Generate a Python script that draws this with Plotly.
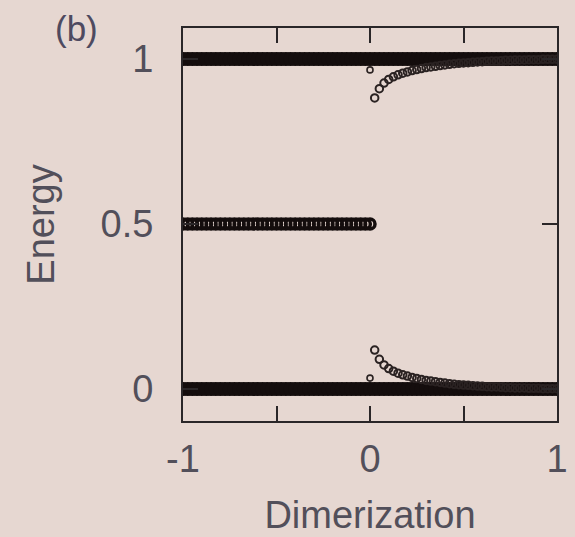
import plotly.graph_objects as go

# ---------------- data ----------------
dimerization_neg = [-1.0, -0.975, -0.95, -0.925, -0.9, -0.875, -0.85, -0.825, -0.8, -0.775,
                    -0.75, -0.725, -0.7, -0.675, -0.65, -0.625, -0.6, -0.575, -0.55, -0.525,
                    -0.5, -0.475, -0.45, -0.425, -0.4, -0.375, -0.35, -0.325, -0.3, -0.275,
                    -0.25, -0.225, -0.2, -0.175, -0.15, -0.125, -0.1, -0.075, -0.05, -0.025, 0.0]
dimerization_pos = [0.025, 0.05, 0.075, 0.1, 0.125, 0.15, 0.175, 0.2, 0.225, 0.25,
                    0.275, 0.3, 0.325, 0.35, 0.375, 0.4, 0.425, 0.45, 0.475, 0.5,
                    0.525, 0.55, 0.575, 0.6, 0.625, 0.65, 0.675, 0.7, 0.725, 0.75,
                    0.775, 0.8, 0.825, 0.85, 0.875, 0.9, 0.925, 0.95, 0.975, 1.0]

# bulk band energies (flat bands)
bulk_band_levels = [0.0, 1.0]

# mid-gap (zero-mode) state for negative dimerization
midgap_energy = 0.5

# edge states detaching from the bands for positive dimerization
edge_lower = [0.118, 0.090, 0.073, 0.062, 0.054, 0.048, 0.043, 0.039, 0.035, 0.032,
              0.029, 0.026, 0.024, 0.022, 0.020, 0.018, 0.016, 0.014, 0.013, 0.012,
              0.011, 0.010, 0.009, 0.008, 0.007, 0.006, 0.006, 0.005, 0.004, 0.004,
              0.003, 0.003, 0.003, 0.002, 0.002, 0.002, 0.001, 0.001, 0.001, 0.001]
edge_upper = [0.882, 0.910, 0.927, 0.938, 0.946, 0.952, 0.957, 0.961, 0.965, 0.968,
              0.971, 0.974, 0.976, 0.978, 0.980, 0.982, 0.984, 0.986, 0.987, 0.988,
              0.989, 0.990, 0.991, 0.992, 0.993, 0.994, 0.994, 0.995, 0.996, 0.996,
              0.997, 0.997, 0.997, 0.998, 0.998, 0.998, 0.999, 0.999, 0.999, 0.999]
# states at the critical point
critical_x = [0.0, 0.0]
critical_e = [0.033, 0.967]

x_tickvals = [-1, -0.5, 0, 0.5, 1]
x_ticktext = ["-1", "", "0", "", "1"]
y_tickvals = [0, 0.5, 1]
y_ticktext = ["0", "0.5", "1"]

# ---------------- figure ----------------
BG = "#e6d7d1"
TXT = "#524f5a"
INK = "#140d0d"
EDGE = "#2a2222"
FONT = "Liberation Sans"

fig = go.Figure()

dim_all = dimerization_neg + dimerization_pos
for lvl in bulk_band_levels:
    fig.add_trace(go.Scatter(
        x=dim_all, y=[lvl for _ in dim_all], mode="lines+markers",
        line=dict(color=INK, width=13),
        marker=dict(symbol="circle", size=14, color=INK, line=dict(width=0)),
        showlegend=False, hoverinfo="skip"))

fig.add_trace(go.Scatter(
    x=dimerization_neg, y=[midgap_energy for _ in dimerization_neg], mode="markers",
    marker=dict(symbol="circle-open", size=10, color=INK, line=dict(width=3.5)),
    showlegend=False))

fig.add_trace(go.Scatter(
    x=dimerization_pos, y=edge_lower, mode="markers",
    marker=dict(symbol="circle-open", size=7.5, color=EDGE, line=dict(width=2)),
    showlegend=False))
fig.add_trace(go.Scatter(
    x=dimerization_pos, y=edge_upper, mode="markers",
    marker=dict(symbol="circle-open", size=7.5, color=EDGE, line=dict(width=2)),
    showlegend=False))
fig.add_trace(go.Scatter(
    x=critical_x, y=critical_e, mode="markers",
    marker=dict(symbol="circle-open", size=6, color=EDGE, line=dict(width=1.6)),
    showlegend=False))

axis_common = dict(
    showline=True, linecolor="#2a2628", linewidth=2, mirror="ticks",
    ticks="inside", ticklen=15, tickwidth=2, tickcolor="#2a2628",
    showgrid=False, zeroline=False, automargin=False,
    tickfont=dict(family=FONT, size=38, color=TXT),
)

fig.update_layout(
    width=575, height=537,
    margin=dict(l=183, r=18, t=28, b=116),
    paper_bgcolor=BG, plot_bgcolor=BG,
    font=dict(family=FONT, color=TXT),
    xaxis=dict(range=[-1, 1], tickvals=x_tickvals, ticktext=x_ticktext,
               ticklabelstandoff=3,
               title=dict(text="Dimerization", font=dict(family=FONT, size=38, color=TXT), standoff=23),
               **axis_common),
    yaxis=dict(range=[-0.097, 1.094], tickvals=y_tickvals, ticktext=y_ticktext,
               ticklabelstandoff=20,
               title=dict(text="Energy", font=dict(family=FONT, size=38, color=TXT), standoff=34),
               **axis_common),
    annotations=[dict(text="(b)", xref="paper", yref="paper", x=-0.285, y=1.0,
                      xanchor="center", yanchor="middle", showarrow=False,
                      font=dict(family=FONT, size=35, color="#4e4a60"))],
)

fig.write_html("out.html")
